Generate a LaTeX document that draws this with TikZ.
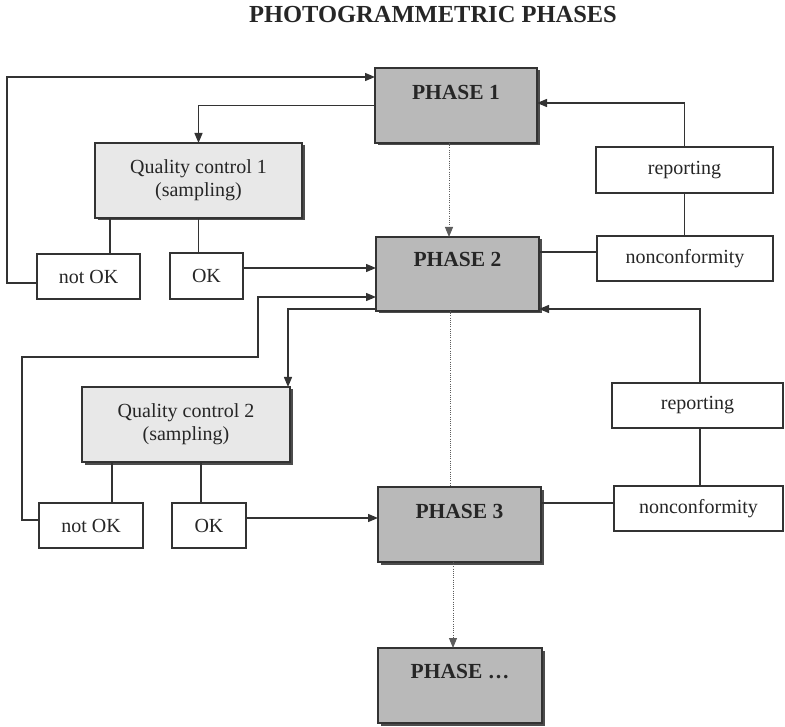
\documentclass[tikz,border=0pt]{standalone}
\usepackage{fontspec}
\setmainfont{Liberation Serif}
\usetikzlibrary{arrows.meta,shadows}
\definecolor{ln}{HTML}{333333}
\definecolor{phasegray}{HTML}{B9B9B9}
\definecolor{qcgray}{HTML}{E8E8E8}
\definecolor{txt}{HTML}{262626}
\begin{document}
\begin{tikzpicture}[x=1pt,y=-1pt,
  every node/.style={inner sep=0pt, outer sep=0pt, text=txt},
  conn/.style={draw=ln, line width=1.3pt},
  arr/.style={conn, -{Triangle[length=10pt,width=8pt]}},
  dots/.style={draw=ln!80, line width=0.9pt, dash pattern=on 1pt off 1.2pt},
  dotarr/.style={dots, -{Triangle[length=10pt,width=8pt]}},
  phasebox/.style={draw=ln, line width=1.3pt, fill=phasegray, minimum width=163pt, minimum height=75pt,
     drop shadow={shadow xshift=2.5pt, shadow yshift=-2.5pt, fill=black, opacity=0.7}},
  phasetxt/.style={anchor=base, font=\fontsize{21.5}{24}\selectfont\bfseries},
  qcbox/.style={draw=ln, line width=1.3pt, fill=qcgray, minimum height=75pt, align=center,
     font=\fontsize{20}{23}\selectfont,
     drop shadow={shadow xshift=2.5pt, shadow yshift=-2.5pt, fill=black, opacity=0.7}},
  wbox/.style={draw=ln, line width=1.3pt, fill=white, minimum height=45pt, font=\fontsize{20}{23}\selectfont},
  titletxt/.style={anchor=base, font=\fontsize{24.5}{28}\selectfont\bfseries}
]
\useasboundingbox (0,0) rectangle (785,727);

\node[titletxt] (title) at (433,23) {PHOTOGRAMMETRIC PHASES};

% phases
\node[phasebox, minimum width=162pt] (p1) at (456,105.5) {};
\node[phasebox, minimum height=74pt] (p2) at (457.5,274) {};
\node[phasebox] (p3) at (459.5,524.5) {};
\node[phasebox, minimum width=164pt] (p4) at (460,685.5) {};
\node[phasetxt] (t1) at ([yshift=-32pt]p1.north) {PHASE 1};
\node[phasetxt] (t2) at ([yshift=-30pt]p2.north) {PHASE 2};
\node[phasetxt] (t3) at ([yshift=-31pt]p3.north) {PHASE 3};
\node[phasetxt] (t4) at ([yshift=-30pt]p4.north) {PHASE \dots};

% quality controls
\node[qcbox, minimum width=207pt] (qc1) at (198.5,180.5) {Quality control 1\\(sampling)};
\node[qcbox, minimum width=208pt] (qc2) at (186,424.5) {Quality control 2\\(sampling)};

% small boxes
\node[wbox, minimum width=103pt] (nok1) at (88.5,276.5) {not OK};
\node[wbox, minimum width=73pt, minimum height=46pt] (ok1) at (206.5,276) {OK};
\node[wbox, minimum width=104pt] (nok2) at (91,525.5) {not OK};
\node[wbox, minimum width=74pt] (ok2) at (209,525.5) {OK};
\node[wbox, minimum width=177pt, minimum height=46pt] (rep1) at (684.5,170) {reporting};
\node[wbox, minimum width=176pt] (nc1) at (685,258.5) {nonconformity};
\node[wbox, minimum width=171pt] (rep2) at (697.5,405.5) {reporting};
\node[wbox, minimum width=169pt] (nc2) at (698.5,508.5) {nonconformity};

% bend coordinates
\coordinate (c1) at (7,77);
\coordinate (c2) at (22,357);
\coordinate (c3) at (258,297);
\coordinate (s1) at ([xshift=21.5pt]nok1.north);
\coordinate (s2) at ([xshift=21pt]nok2.north);
\coordinate (s3) at ([xshift=-8pt]ok2.north);
\coordinate (e1) at ([yshift=8pt]ok1.east);
\coordinate (e2) at ([yshift=7.5pt]ok2.east);
\coordinate (n1) at ([yshift=6.5pt]nc1.west);
\coordinate (n2) at ([yshift=5.5pt]nc2.west);
\coordinate (r2t) at ([xshift=2.5pt]rep2.north);
\coordinate (r2b) at ([xshift=2.5pt]rep2.south);

% group 1
\draw[arr] ([yshift=-6.5pt]nok1.west) -| (c1) -- ([yshift=28.5pt]p1.west);
\draw[arr] (p1.west) -| (qc1.north);
\draw[conn] (s1) -- (s1 |- qc1.south);
\draw[conn] (qc1.south) -- (qc1.south |- ok1.north);
\draw[arr] (e1) -- (e1 -| p2.west);
\draw[dotarr] ([xshift=-7pt]p1.south) -- ([xshift=-8.5pt]p2.north);
\draw[arr] (rep1.north) |- ([yshift=2.5pt]p1.east);
\draw[conn] (rep1.south) -- (rep1.south |- nc1.north);
\draw[conn] (n1) -- (n1 -| p2.east);

% group 2
\draw[arr] ([yshift=5.5pt]nok2.west) -| (c2) -| (c3) -- (c3 -| p2.west);
\draw[arr] ([yshift=-35pt]p2.west) -| ([xshift=102pt]qc2.north);
\draw[conn] (s2) -- (s2 |- qc2.south);
\draw[conn] (s3) -- (s3 |- qc2.south);
\draw[arr] (e2) -- (e2 -| p3.west);
\draw[dots] ([xshift=-7.5pt]p2.south) -- ([xshift=-9.5pt]p3.north);
\draw[arr] (r2t) |- ([yshift=-35pt]p2.east);
\draw[conn] (r2b) -- (r2b |- nc2.north);
\draw[conn] (n2) -- (n2 -| p3.east);
\draw[dotarr] ([xshift=-6.5pt]p3.south) -- ([xshift=-7pt]p4.north);
\end{tikzpicture}
\end{document}
